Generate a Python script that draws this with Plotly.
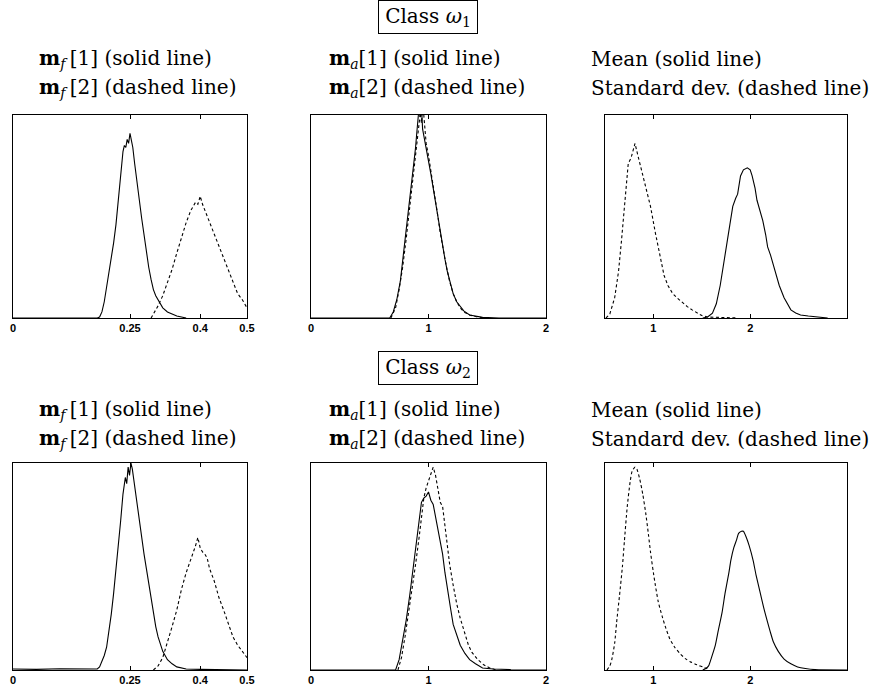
import plotly.graph_objects as go

# ---------------- data ----------------
# Class w1, m_f panel  (x in [0, 0.5])
mf1_w1_x = [0, 0.18, 0.185, 0.19, 0.195, 0.20, 0.205, 0.21, 0.215, 0.22, 0.225, 0.23, 0.235, 0.238, 0.241,
            0.244, 0.247, 0.25, 0.253, 0.256, 0.26, 0.265, 0.27, 0.275, 0.28, 0.285, 0.29, 0.295, 0.30,
            0.305, 0.31, 0.315, 0.32, 0.33, 0.34, 0.35, 0.36, 0.37]
mf1_w1_y = [0, 0, 0.5, 3, 8, 15, 22, 30, 37, 46, 57, 68, 82, 85, 84,
            88, 86, 91, 87, 84, 76, 68, 58, 49, 41, 32, 25, 19, 14,
            11, 9, 7, 5, 3, 2, 1, 0.5, 0]
mf2_w1_x = [0.295, 0.30, 0.31, 0.32, 0.33, 0.34, 0.35, 0.36, 0.37, 0.38, 0.385, 0.39, 0.395, 0.40, 0.405,
            0.41, 0.42, 0.43, 0.44, 0.45, 0.46, 0.47, 0.48, 0.49, 0.50]
mf2_w1_y = [0, 2, 6, 11, 17, 24, 32, 40, 47, 53, 55, 57, 56, 60, 56,
            53, 48, 42, 36, 29, 23, 17, 12, 9, 5]

# Class w2, m_f panel
mf1_w2_x = [0, 0.05, 0.10, 0.15, 0.18, 0.185, 0.19, 0.195, 0.20, 0.205, 0.21, 0.215, 0.22, 0.225, 0.23,
            0.235, 0.24, 0.243, 0.246, 0.249, 0.252, 0.255, 0.258, 0.262, 0.266, 0.27, 0.275, 0.28, 0.285,
            0.29, 0.295, 0.30, 0.305, 0.31, 0.315, 0.32, 0.33, 0.34, 0.35, 0.36, 0.37, 0.40, 0.45, 0.50]
mf1_w2_y = [0.5, 0.3, 0.6, 0.4, 0.5, 1.5, 4, 7, 11, 18, 27, 37, 48, 60, 72,
            85, 93, 90, 98, 94, 100, 97, 92, 86, 80, 72, 63, 56, 49,
            42, 34, 27, 21, 16, 12, 9, 5, 3, 1.5, 1, 0.5, 0.3, 0.3, 0]
mf2_w2_x = [0.30, 0.31, 0.32, 0.33, 0.34, 0.35, 0.36, 0.37, 0.38, 0.385, 0.39, 0.395, 0.40, 0.405, 0.41,
            0.415, 0.42, 0.43, 0.44, 0.45, 0.46, 0.47, 0.48, 0.49, 0.50]
mf2_w2_y = [0, 2, 6, 13, 21, 29, 39, 47, 53, 56, 60, 64, 59, 57, 56,
            54, 49, 43, 35, 29, 22, 16, 12, 9, 6]

# Class w1, m_a panel  (x in [0, 2])
ma1_w1_x = [0, 0.6, 0.67, 0.70, 0.73, 0.76, 0.78, 0.80, 0.83, 0.85, 0.87, 0.89, 0.90, 0.91, 0.92, 0.93,
            0.94, 0.95, 0.96, 0.98, 1.00, 1.02, 1.04, 1.06, 1.08, 1.10, 1.12, 1.14, 1.16, 1.18, 1.21,
            1.24, 1.27, 1.30, 1.35, 1.40, 1.46, 1.6, 2.0]
ma1_w1_y = [0, 0, 0, 3, 9, 18, 28, 38, 51, 62, 73, 84, 91, 98, 104, 99,
            104, 93, 90, 83, 78, 71, 64, 57, 49, 41, 35, 29, 23, 18, 12,
            8, 5.5, 3.5, 1.5, 0.8, 0.3, 0, 0]
ma2_w1_x = [0.68, 0.72, 0.75, 0.78, 0.81, 0.84, 0.87, 0.89, 0.91, 0.92, 0.93, 0.94, 0.95, 0.96, 0.97, 0.98,
            1.00, 1.02, 1.04, 1.06, 1.08, 1.10, 1.12, 1.15, 1.18, 1.21, 1.24, 1.27, 1.30, 1.35, 1.40, 1.48]
ma2_w1_y = [0, 5, 14, 25, 39, 55, 70, 82, 92, 97, 101, 96, 104, 100, 92, 86,
            80, 73, 66, 58, 50, 42, 35, 26, 18, 12, 8, 5, 3, 1.5, 0.7, 0]

# Class w2, m_a panel
ma1_w2_x = [0, 0.5, 0.72, 0.75, 0.78, 0.81, 0.84, 0.87, 0.90, 0.92, 0.94, 0.96, 0.98, 1.00, 1.02, 1.04,
            1.07, 1.10, 1.12, 1.14, 1.16, 1.19, 1.21, 1.24, 1.27, 1.31, 1.35, 1.40, 1.46, 1.55, 1.7, 2.0]
ma1_w2_y = [0, 0, 0, 5, 14, 24, 36, 49, 62, 72, 81, 83, 84, 86, 82, 80,
            71, 63, 56, 47, 39, 29, 22, 17, 12, 8, 5, 3, 1, 0.5, 0.2, 0]
ma2_w2_x = [0.74, 0.77, 0.80, 0.83, 0.86, 0.89, 0.92, 0.94, 0.96, 0.98, 1.00, 1.02, 1.04, 1.06, 1.08,
            1.10, 1.12, 1.14, 1.16, 1.18, 1.21, 1.24, 1.27, 1.30, 1.34, 1.37, 1.42, 1.47, 1.52, 1.58]
ma2_w2_y = [0, 6, 16, 27, 38, 51, 64, 75, 83, 88, 91, 95, 98, 94, 88,
            81, 79, 70, 61, 51, 41, 32, 25, 19, 12, 8.5, 5, 2.5, 1, 0]

# Class w1, mean / std panel (x in [0.5, 3])
std_w1_x = [0.51, 0.55, 0.60, 0.64, 0.67, 0.70, 0.74, 0.77, 0.81, 0.84, 0.88, 0.92, 0.97, 1.02,
            1.07, 1.11, 1.15, 1.20, 1.25, 1.30, 1.35, 1.40, 1.45, 1.50, 1.56, 1.65, 1.75, 1.87]
std_w1_y = [0, 2, 10, 23, 38, 55, 76, 79, 86, 80, 72, 64, 55, 42,
            30, 21, 16, 12, 9.7, 7.5, 5.6, 4, 2.4, 1.2, 0.5, 0.3, 0.2, 0]
mean_w1_x = [1.51, 1.56, 1.61, 1.65, 1.69, 1.73, 1.76, 1.79, 1.82, 1.85, 1.87, 1.90, 1.93, 1.97, 2.00,
             2.02, 2.05, 2.07, 2.10, 2.13, 2.16, 2.18, 2.21, 2.23, 2.27, 2.30, 2.35, 2.42, 2.47, 2.52,
             2.60, 2.73, 2.80]
mean_w1_y = [0, 0.5, 2.4, 7, 16, 27, 37, 46, 55, 59, 61, 70, 73, 74, 73,
             70, 64, 58, 53, 48, 41, 35, 31, 27.5, 21, 16, 10, 4, 2.5, 1.5,
             1, 0.5, 0]

# Class w2, mean / std panel
std_w2_x = [0.52, 0.55, 0.57, 0.60, 0.62, 0.65, 0.68, 0.70, 0.73, 0.76, 0.78, 0.81, 0.83, 0.86, 0.89,
            0.92, 0.95, 0.97, 1.00, 1.02, 1.05, 1.09, 1.13, 1.17, 1.22, 1.28, 1.33, 1.38, 1.45, 1.51, 1.56]
std_w2_y = [0, 2, 5, 13, 23, 36, 50, 62, 79, 91, 96, 98, 97, 92, 85,
            76, 65, 57, 47, 41, 33, 26, 20, 15, 11, 7.7, 5.5, 4, 2.5, 1.5, 0.5]
mean_w2_x = [1.51, 1.54, 1.57, 1.60, 1.64, 1.67, 1.71, 1.74, 1.78, 1.80, 1.83, 1.86, 1.88, 1.91, 1.93,
             1.96, 1.99, 2.03, 2.06, 2.10, 2.14, 2.18, 2.21, 2.24, 2.29, 2.35, 2.42, 2.49, 2.57, 2.67, 3.0]
mean_w2_y = [0, 0.7, 2, 6, 12, 19, 28, 37, 47, 53, 59, 63, 66, 67, 67,
             64, 60, 53, 46, 38, 30, 23, 18, 13.5, 9, 5.3, 3, 1.5, 0.7, 0.2, 0]

# tick labels
mf_ticks = [0, 0.25, 0.4, 0.5]
mf_ticktext = ["0", "0.25", "0.4", "0.5"]
ma_ticks = [0, 1, 2]
ma_ticktext = ["0", "1", "2"]
ms_ticks = [1, 2]
ms_ticktext = ["1", "2"]

class_titles = ["Class <i>ω</i><sub>1</sub>", "Class <i>ω</i><sub>2</sub>"]
panel_lines = [
    ["<b>m</b><sub><i>f</i> </sub>[1] (solid line)", "<b>m</b><sub><i>f</i> </sub>[2] (dashed line)"],
    ["<b>m</b><sub><i>a</i></sub>[1] (solid line)", "<b>m</b><sub><i>a</i></sub>[2] (dashed line)"],
    ["Mean (solid line)", "Standard dev. (dashed line)"],
]

# ---------------- figure ----------------
W, H = 872, 691
fig = go.Figure()

SOLID = dict(color="black", width=1.1)
DASH = dict(color="black", width=1.1, dash="3px,2.5px")

series = [
    # (axis index, x, y, style, shape)
    (1, mf1_w1_x, mf1_w1_y, SOLID, "linear"),
    (1, mf2_w1_x, mf2_w1_y, DASH, "linear"),
    (2, ma1_w1_x, ma1_w1_y, SOLID, "linear"),
    (2, ma2_w1_x, ma2_w1_y, DASH, "linear"),
    (3, mean_w1_x, mean_w1_y, SOLID, "linear"),
    (3, std_w1_x, std_w1_y, DASH, "linear"),
    (4, mf1_w2_x, mf1_w2_y, SOLID, "linear"),
    (4, mf2_w2_x, mf2_w2_y, DASH, "linear"),
    (5, ma1_w2_x, ma1_w2_y, SOLID, "linear"),
    (5, ma2_w2_x, ma2_w2_y, DASH, "linear"),
    (6, mean_w2_x, mean_w2_y, SOLID, "spline"),
    (6, std_w2_x, std_w2_y, DASH, "spline"),
]
for idx, xs, ys, st, shape in series:
    sfx = "" if idx == 1 else str(idx)
    line = dict(st)
    line["shape"] = shape
    if shape == "spline":
        line["smoothing"] = 0.6
    fig.add_trace(go.Scatter(x=xs, y=ys, mode="lines", line=line,
                             xaxis="x" + sfx, yaxis="y" + sfx, showlegend=False, hoverinfo="skip"))

# panel frames in pixels: (x0, x1, ytop, ybottom)
frames = {
    1: (13, 247, 115, 318), 2: (311, 546, 115, 318), 3: (605, 847, 115, 318),
    4: (13, 247, 463, 670), 5: (311, 546, 463, 670), 6: (605, 847, 463, 670),
}
xranges = {1: [0, 0.5], 2: [0, 2], 3: [0.5, 3], 4: [0, 0.5], 5: [0, 2], 6: [0.5, 3]}
xticks = {1: (mf_ticks, mf_ticktext), 2: (ma_ticks, ma_ticktext), 3: (ms_ticks, ms_ticktext),
          4: (mf_ticks, mf_ticktext), 5: (ma_ticks, ma_ticktext), 6: (ms_ticks, ms_ticktext)}

layout = {}
for idx, (x0, x1, yt, yb) in frames.items():
    sfx = "" if idx == 1 else str(idx)
    tv, tt = xticks[idx]
    layout["xaxis" + sfx] = dict(
        domain=[x0 / W, x1 / W], range=xranges[idx], anchor="y" + sfx, automargin=False,
        tickvals=tv, ticktext=tt, ticks="inside", ticklen=4, tickwidth=1, tickcolor="black",
        showline=True, linecolor="black", linewidth=1, mirror="ticks",
        showgrid=False, zeroline=False, fixedrange=True,
        tickfont=dict(family="Liberation Sans, Arial", size=11, color="black", weight="bold"),
    )
    layout["yaxis" + sfx] = dict(
        domain=[1 - yb / H, 1 - yt / H], range=[0, 100], anchor="x" + sfx, automargin=False,
        showline=True, linecolor="black", linewidth=1, mirror=True,
        showticklabels=False, ticks="", showgrid=False, zeroline=False, fixedrange=True,
    )

SERIF = dict(family="DejaVu Serif", size=20, color="black")
annotations = []
row_y = [(17, 59, 88), (368, 410, 439)]
text_x = [37, 327, 589]
for r, (ycls, y1, y2) in enumerate(row_y):
    annotations.append(dict(
        text=class_titles[r], x=428 / W, y=1 - ycls / H, xref="paper", yref="paper",
        xanchor="center", yanchor="middle", showarrow=False, font=SERIF,
        bordercolor="black", borderwidth=1, borderpad=2, width=94, height=28, bgcolor="white",
    ))
    for c in range(3):
        for line_text, yy in zip(panel_lines[c], (y1, y2)):
            annotations.append(dict(
                text=line_text, x=text_x[c] / W, y=1 - yy / H, xref="paper", yref="paper",
                xanchor="left", yanchor="middle", showarrow=False, font=SERIF,
            ))

fig.update_layout(
    width=W, height=H, margin=dict(l=0, r=0, t=0, b=0, autoexpand=False),
    paper_bgcolor="white", plot_bgcolor="white",
    annotations=annotations, showlegend=False, **layout,
)

fig.write_html(
    "out.html",
    config={"displayModeBar": False, "staticPlot": True},
    post_script="document.body.style.margin='0';document.body.style.padding='0';"
                "document.documentElement.style.overflow='hidden';",
)
